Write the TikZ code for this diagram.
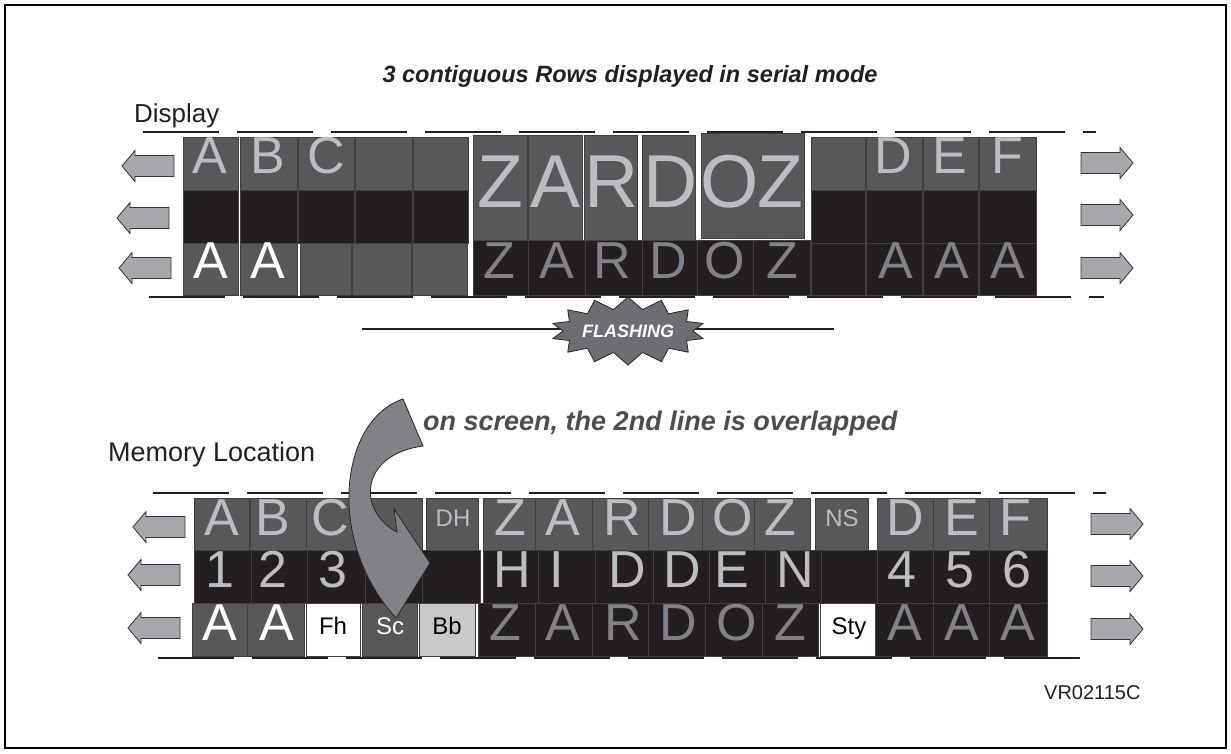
\documentclass[tikz,border=0pt]{standalone}
\usepackage{fontspec}
\setmainfont{Liberation Sans}
\usetikzlibrary{shapes.symbols}
\definecolor{cdark}{HTML}{58585A}
\definecolor{cblack}{HTML}{231F20}
\definecolor{clight}{HTML}{C8C9CB}
\definecolor{ltxt}{HTML}{BCBDC0}
\definecolor{mtxt}{HTML}{808285}
\definecolor{afill}{HTML}{A6A8AB}
\definecolor{cfill}{HTML}{808285}
\definecolor{bfill}{HTML}{6D6E71}
\definecolor{gtxt}{HTML}{4D4D4F}
\newcommand\setfs[1]{\fontsize{#1}{#1}\selectfont}
\newcommand\mkcell[6]{\node[#1, minimum width={#5-#3}, minimum height={#6-#4}] (#2) at (#3,#4) {};}
\newcommand\harrow[4]{%
  \coordinate (#1) at (#2,#3);
  \draw[arrowsty, shift={(#2,#3)}, xscale=#4] (-26,-10.5) -- (13,-10.5) -- (13,-15.5) -- (26,0)
     -- (13,15.5) -- (13,10.5) -- (-26,10.5) -- cycle;}
\tikzset{
  cellbase/.style={rectangle, inner sep=0pt, outer sep=0pt, anchor=north west, draw=black!75, line width=0.5pt},
  gcell/.style={cellbase, fill=cdark},
  kcell/.style={cellbase, fill=cblack},
  wcell/.style={cellbase, fill=white},
  lcell/.style={cellbase, fill=clight},
  ltr/.style={anchor=base, inner sep=0pt},
  hugeltr/.style={ltr, font=\setfs{75}},
  bigltr/.style={ltr, font=\setfs{52}},
  smallltr/.style={ltr, font=\setfs{24}},
  arrowsty/.style={fill=afill, draw=black!80, line width=0.8pt, line join=miter},
  dline/.style={line width=2.5pt, dash pattern=on 76pt off 18pt, cblack},
  label/.style={anchor=base west, inner sep=0pt, font=\setfs{26}, text=cblack},
}
\begin{document}
\begin{tikzpicture}[x=1pt,y=-1pt]
\useasboundingbox (0,0) rectangle (1231,753);
\draw[line width=2pt] (5,5) rectangle (1226,748);

% titles
\node[anchor=base, inner sep=0pt, font=\setfs{23.5}\bfseries\itshape, text=cblack] (title) at (630,82) {3 contiguous Rows displayed in serial mode};
\node[label] (disp) at (134,122) {Display};
\node[label, font=\setfs{27}] (memloc) at (108,461) {Memory Location};
\node[anchor=base west, inner sep=0pt, font=\setfs{27}\bfseries\itshape, text=gtxt] (onscreen) at (423,430) {on screen, the 2nd line is overlapped};
\node[anchor=base west, inner sep=0pt, font=\setfs{20}, text=cblack] (vr) at (1044,699) {VR02115C};

% ===== DISPLAY =====
\coordinate (dt1) at (143,132); \coordinate (dt2) at (1096,132);
\coordinate (db1) at (149,297); \coordinate (db2) at (1104,297);
\draw[dline] (dt1) -- (dt2);
\draw[dline] (db1) -- (db2);

\foreach \n/\a/\b in {1/183/238,2/240/297,3/298/354,4/355/412,5/413/468}{
  \mkcell{gcell}{da\n}{\a}{137}{\b}{190}
  \mkcell{kcell}{db\n}{\a}{190}{\b}{243}
}
\foreach \n/\a/\b in {1/183/238,2/240/297,3/300/351,4/352/411,5/412/467}{
  \mkcell{gcell}{dc\n}{\a}{243}{\b}{295}
}
\mkcell{gcell}{dz1}{473}{135}{527}{240}
\mkcell{gcell}{dz2}{528}{135}{582}{240}
\mkcell{gcell}{dz3}{584}{135}{637}{240}
\mkcell{gcell}{dz4}{642}{135}{695}{240}
\mkcell{gcell}{dz5}{701}{133}{804}{238}
\foreach \n/\a/\b in {1/473/528,2/528/585,3/585/642,4/642/697,5/697/753,6/753/810}{
  \mkcell{kcell}{dzz\n}{\a}{240}{\b}{295}
}
\foreach \n/\a/\b in {1/811/865,2/866/922,3/923/978,4/979/1036}{
  \mkcell{gcell}{dra\n}{\a}{137}{\b}{190}
  \mkcell{kcell}{drb\n}{\a}{190}{\b}{243}
  \mkcell{kcell}{drc\n}{\a}{243}{\b}{295}
}
% display letters
\node[bigltr, text=ltxt] (dlA) at (210,173) {A};
\node[bigltr, text=ltxt] (dlB) at (268,173) {B};
\node[bigltr, text=ltxt] (dlC) at (326,173) {C};
\node[bigltr, text=white] (dlA1) at (211,278) {A};
\node[bigltr, text=white] (dlA2) at (268,278) {A};
\foreach \n/\x/\c in {1/500/Z,2/556/A,3/612/R,4/671/D,5/730/O,6/780/Z}{
  \node[hugeltr, text=ltxt] (dZt\n) at (\x,207) {\c};
}
\foreach \n/\x/\c in {1/499/Z,2/557/A,3/612/R,4/668/D,5/725/O,6/782/Z}{
  \node[bigltr, text=mtxt] (dZb\n) at (\x,278) {\c};
}
\node[bigltr, text=ltxt] (dlD) at (893,173) {D};
\node[bigltr, text=ltxt] (dlE) at (950,173) {E};
\node[bigltr, text=ltxt] (dlF) at (1007,173) {F};
\node[bigltr, text=mtxt] (dlAa) at (896,278) {A};
\node[bigltr, text=mtxt] (dlAb) at (952,278) {A};
\node[bigltr, text=mtxt] (dlAc) at (1008,278) {A};

% display arrows
\harrow{dal1}{148}{166}{-1}
\harrow{dal2}{143}{218}{-1}
\harrow{dal3}{145}{268}{-1}
\harrow{dar1}{1107}{163}{1}
\harrow{dar2}{1107}{215}{1}
\harrow{dar3}{1107}{268}{1}

% flashing
\coordinate (fl) at (362,329); \coordinate (fr) at (834,329);
\draw[line width=1.5pt, cblack] (fl) -- (fr);
\node[starburst, starburst points=14, starburst point height=12pt, random starburst=0,
  minimum width=141pt, minimum height=68pt, inner sep=0pt,
  fill=bfill, draw=black!85, line width=0.8pt,
  font=\setfs{18}\bfseries\itshape, text=white] (flash) at (628,331) {FLASHING};

% ===== MEMORY =====
\coordinate (mt1) at (153,493); \coordinate (mt2) at (1106,493);
\coordinate (mb1) at (158,658); \coordinate (mb2) at (1083,658);
\draw[dline] (mt1) -- (mt2);
\draw[dline] (mb1) -- (mb2);

\foreach \n/\a/\b in {1/194/249,2/250/306,3/306/363,4/363/422,5/426/478,6/483/535,7/535/592,8/592/648,9/648/702,10/702/754,11/754/810,12/815/868,13/877/933,14/933/989,15/989/1047}{
  \mkcell{gcell}{ma\n}{\a}{498}{\b}{550}
}
\foreach \n/\a/\b in {1/194/251,2/251/307,3/307/365,4/365/422,5/422/480,6/483/538,7/538/595,8/595/653,9/653/709,10/709/765,11/765/821,12/821/877,13/877/933,14/933/989,15/989/1047}{
  \mkcell{kcell}{mb\n}{\a}{550}{\b}{603}
}
\mkcell{gcell}{mc1}{192}{603}{247}{656}
\mkcell{gcell}{mc2}{247}{603}{304}{656}
\mkcell{wcell}{mc3}{306}{603}{360}{656}
\mkcell{gcell}{mc4}{362}{603}{417}{656}
\mkcell{lcell}{mc5}{419}{603}{475}{656}
\foreach \n/\a/\b in {6/478/535,7/535/592,8/592/648,9/648/705,10/705/762,11/762/818}{
  \mkcell{kcell}{mc\n}{\a}{603}{\b}{656}
}
\mkcell{wcell}{mc12}{820}{603}{875}{656}
\foreach \n/\a/\b in {13/875/933,14/933/989,15/989/1047}{
  \mkcell{kcell}{mc\n}{\a}{603}{\b}{656}
}

% memory letters row 1
\foreach \n/\x/\c in {1/222/A,2/273/B,3/330/C,6/510/Z,7/563/A,8/622/R,9/678/D,10/733/O,11/780/Z,13/905/D,14/962/E,15/1015/F}{
  \node[bigltr, text=ltxt] (mla\n) at (\x,535) {\c};
}
\node[smallltr, text=ltxt] (mDH) at (453,526) {DH};
\node[smallltr, text=ltxt] (mNS) at (842,526) {NS};
% row 2
\foreach \n/\x/\c in {1/220/1,2/273/2,3/333/3,6/512/H,7/557/I,8/627/D,9/682/D,10/732/E,11/795/N,13/902/4,14/960/5,15/1017/6}{
  \node[bigltr, text=ltxt] (mlb\n) at (\x,587) {\c};
}
% row 3
\node[bigltr, text=white] (mlc1) at (220,640) {A};
\node[bigltr, text=white] (mlc2) at (277,640) {A};
\node[smallltr, text=black] (mFh) at (333,634) {Fh};
\node[smallltr, text=white] (mSc) at (390,634) {Sc};
\node[smallltr, text=black] (mBb) at (447,634) {Bb};
\foreach \n/\x/\c in {6/505/Z,7/563/A,8/623/R,9/678/D,10/737/O,11/790/Z,13/905/A,14/962/A,15/1018/A}{
  \node[bigltr, text=mtxt] (mlc\n) at (\x,640) {\c};
}
\node[smallltr, text=black] (mSty) at (849,634) {Sty};

% memory arrows
\harrow{mal1}{159}{527}{-1}
\harrow{mal2}{154}{575}{-1}
\harrow{mal3}{154}{628}{-1}
\harrow{mar1}{1117}{524}{1}
\harrow{mar2}{1117}{576}{1}
\harrow{mar3}{1117}{629}{1}

% curved arrow
\draw[fill=cfill, draw=black!85, line width=0.8pt, line join=miter]
  (403,399) .. controls (340,420) and (325,540) .. (396,618)
  -- (430,563) -- (394,509) -- (397,532)
  .. controls (358,512) and (358,455) .. (423,446) -- cycle;
\end{tikzpicture}
\end{document}
